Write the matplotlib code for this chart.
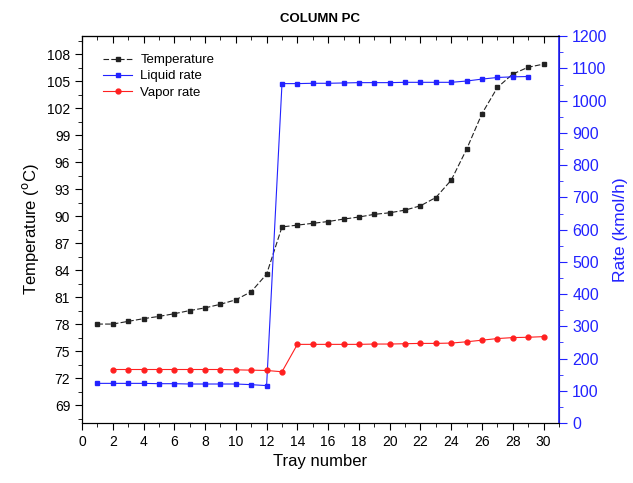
import matplotlib
matplotlib.use("Agg")
from matplotlib import pyplot as plt
from matplotlib.ticker import MultipleLocator

plt.rcParams['font.family'] = ['Liberation Sans', 'DejaVu Sans']

trays_temp = list(range(1, 31))
temperature = [78.0, 78.0, 78.3, 78.6, 78.85, 79.15, 79.5, 79.8, 80.2, 80.7,
               81.6, 83.55, 88.8, 89.0, 89.2, 89.4, 89.67, 89.9, 90.2, 90.37,
               90.67, 91.15, 92.07, 94.0, 97.44, 101.4, 104.3, 105.8, 106.55, 106.9]

trays_liq = list(range(1, 30))
liquid = [123, 123, 123, 123, 122, 122, 121, 121, 121, 121, 119, 116,
          1053, 1053, 1054, 1054, 1055, 1056, 1056, 1056, 1057, 1057, 1057, 1057,
          1061, 1067, 1072, 1074, 1075]

trays_vap = list(range(2, 31))
vapor = [166, 166, 166, 166, 166, 166, 166, 166, 165, 164, 163, 159,
         244, 244, 244, 244, 244, 245, 245, 246, 247, 247, 248, 252,
         257, 262, 265, 266, 268]

blue = '#2222ff'

fig = plt.figure(figsize=(6.33, 4.83), dpi=100)
ax = fig.add_axes([0.1295, 0.1242, 0.7535, 0.8008])
ax2 = ax.twinx()

l1, = ax.plot(trays_temp, temperature, color='#222222', ls=(0, (5, 2)), lw=0.8,
              marker='s', ms=3.5, label='Temperature')
l2, = ax2.plot(trays_liq, liquid, color=blue, lw=0.8, marker='s', ms=3.5,
               label='Liquid rate')
l3, = ax2.plot(trays_vap, vapor, color='#ff2020', lw=0.8, marker='o', ms=3.5,
               label='Vapor rate')

ax.set_xlim(0, 31)
ax.set_ylim(67, 110)
ax2.set_ylim(0, 1200)

ax.xaxis.set_major_locator(MultipleLocator(2))
ax.xaxis.set_minor_locator(MultipleLocator(1))
ax.set_yticks(range(69, 109, 3))
ax.yaxis.set_minor_locator(MultipleLocator(1.5))
ax2.yaxis.set_major_locator(MultipleLocator(100))
ax2.yaxis.set_minor_locator(MultipleLocator(50))

# top axis: ticks pointing inward, no labels
top = ax.secondary_xaxis('top')
top.xaxis.set_major_locator(MultipleLocator(2))
top.xaxis.set_minor_locator(MultipleLocator(1))
top.tick_params(which='both', direction='in', labeltop=False)
top.tick_params(which='major', length=5)
top.tick_params(which='minor', length=3)

ax.tick_params(axis='x', which='both', direction='out', labelsize=10)
ax.tick_params(axis='both', which='major', length=5)
ax.tick_params(axis='both', which='minor', length=3)
ax.tick_params(axis='y', labelsize=10)
ax2.tick_params(axis='y', which='both', colors=blue, labelsize=11.5)
ax2.tick_params(axis='y', which='major', length=6)
ax2.tick_params(axis='y', which='minor', length=3)
ax2.spines['right'].set_color(blue)
ax2.spines['right'].set_linewidth(1.2)

ax.set_xlabel('Tray number', fontsize=12)
ax.set_ylabel('Temperature ($^{\\mathrm{o}}$C)', fontsize=12)
ax2.set_ylabel('Rate (kmol/h)', fontsize=12.5, color=blue)
ax.set_title('COLUMN PC', fontsize=9.5, fontweight='bold', pad=10)

ax.legend(handles=[l1, l2, l3], loc='upper left', frameon=False, fontsize=9.5,
          handlelength=2.2, handletextpad=0.6, labelspacing=0.3,
          bbox_to_anchor=(0.02, 0.985))

fig.savefig('out.png', dpi=100)
